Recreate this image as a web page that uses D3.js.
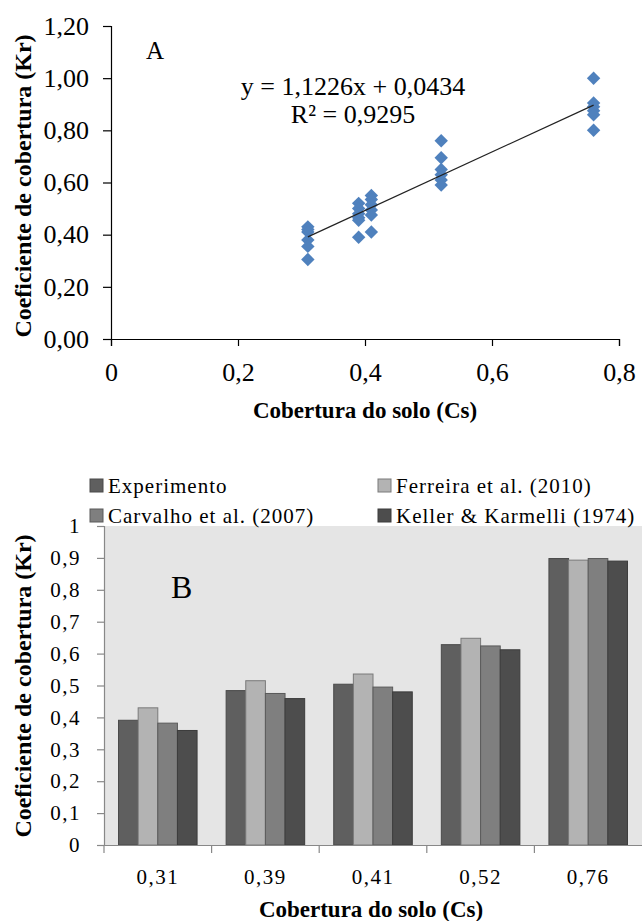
<!DOCTYPE html>
<html>
<head>
<meta charset="utf-8">
<script src="https://cdn.jsdelivr.net/npm/d3@7"></script>
<style>
  body { margin: 0; background: #fff; }
  svg { display: block; }
  text { font-family: "Liberation Serif", "Times New Roman", serif; fill: #000; }
</style>
</head>
<body>
<script>
// --- chart A: scatter ---
var coverX = [0.31, 0.31, 0.31, 0.31, 0.31, 0.31,
              0.39, 0.39, 0.39, 0.39, 0.39, 0.39,
              0.41, 0.41, 0.41, 0.41, 0.41, 0.41,
              0.52, 0.52, 0.52, 0.52, 0.52, 0.52,
              0.76, 0.76, 0.76, 0.76, 0.76, 0.76];
var krY    = [0.43, 0.42, 0.41, 0.38, 0.355, 0.305,
              0.52, 0.50, 0.48, 0.465, 0.455, 0.39,
              0.55, 0.535, 0.515, 0.495, 0.475, 0.41,
              0.76, 0.695, 0.65, 0.63, 0.61, 0.59,
              1.00, 0.905, 0.89, 0.875, 0.86, 0.80];
var slope = 1.1226, intercept = 0.0434;
var scatterXTicks = [0, 0.2, 0.4, 0.6, 0.8];
var scatterYTicks = [0, 0.2, 0.4, 0.6, 0.8, 1.0, 1.2];

// --- chart B: grouped bars ---
var categories = ["0,31", "0,39", "0,41", "0,52", "0,76"];
var seriesNames = ["Experimento", "Ferreira et al. (2010)", "Carvalho et al. (2007)", "Keller & Karmelli (1974)"];
var experimento = [0.391, 0.484, 0.504, 0.628, 0.898];
var ferreira    = [0.430, 0.515, 0.536, 0.648, 0.893];
var carvalho    = [0.382, 0.475, 0.495, 0.624, 0.898];
var keller      = [0.359, 0.459, 0.480, 0.612, 0.890];
var barYTicks = [0, 0.1, 0.2, 0.3, 0.4, 0.5, 0.6, 0.7, 0.8, 0.9, 1];

var comma = function(f) { return function(d) { return d3.format(f)(d).replace(".", ","); }; };

var svg = d3.select("body").append("svg")
    .attr("width", 642)
    .attr("height", 921);

// ===== A =====
var xA = d3.scaleLinear().domain([0, 0.8]).range([111, 619]);
var yA = d3.scaleLinear().domain([0, 1.2]).range([339, 26]);

var axA_x = svg.append("g").attr("transform", "translate(0,339)")
    .call(d3.axisBottom(xA).tickValues(scatterXTicks).tickSize(7).tickPadding(17)
      .tickFormat(function(d) { return d === 0 ? "0" : comma(".1f")(d); }));
var axA_y = svg.append("g").attr("transform", "translate(111,0)")
    .call(d3.axisLeft(yA).tickValues(scatterYTicks).tickSize(8).tickPadding(14).tickFormat(comma(".2f")));
[axA_x, axA_y].forEach(function(g) {
  g.select(".domain").attr("stroke", "#000").attr("stroke-width", 1.2);
  g.selectAll(".tick line").attr("stroke", "#000").attr("stroke-width", 1.2);
  g.selectAll("text").style("font-size", "26px").attr("font-family", null);
});

var pts = coverX.map(function(x, i) { return [x, krY[i]]; });
var diamond = d3.symbol().type(d3.symbolDiamond2).size(115);
svg.append("g").selectAll("path")
  .data(pts)
  .enter()
  .append("path")
  .attr("d", diamond)
  .attr("transform", function(d) { return "translate(" + xA(d[0]) + "," + yA(d[1]) + ")"; })
  .attr("fill", "#4f81bd");

var xMin = d3.min(coverX), xMax = d3.max(coverX);
svg.append("line")
  .attr("x1", xA(xMin)).attr("y1", yA(slope * xMin + intercept))
  .attr("x2", xA(xMax)).attr("y2", yA(slope * xMax + intercept))
  .attr("stroke", "#222").attr("stroke-width", 1.2);

svg.append("text").attr("x", 353).attr("y", 95).attr("text-anchor", "middle")
  .style("font-size", "26px").text("y = 1,1226x + 0,0434");
svg.append("text").attr("x", 353).attr("y", 123).attr("text-anchor", "middle")
  .style("font-size", "26px").text("R² = 0,9295");
svg.append("text").attr("x", 146).attr("y", 59).style("font-size", "25px").text("A");

svg.append("text")
  .attr("transform", "translate(31,186) rotate(-90)")
  .attr("text-anchor", "middle")
  .style("font-size", "24px").style("font-weight", "bold")
  .text("Coeficiente de cobertura (Kr)");
svg.append("text").attr("x", 365).attr("y", 418).attr("text-anchor", "middle")
  .style("font-size", "23px").style("font-weight", "bold")
  .text("Cobertura do solo (Cs)");

// ===== B =====
var series = [experimento, ferreira, carvalho, keller];
var fills = ["#5f5f5f", "#b3b3b3", "#7f7f7f", "#4d4d4d"];
var strokes = ["#4a4a4a", "#7a7a7a", "#5a5a5a", "#3c3c3c"];

var x0 = d3.scaleBand().domain(categories).range([104, 642]).paddingInner(0.27).paddingOuter(0.135);
var x1 = d3.scaleBand().domain(d3.range(series.length)).range([0, x0.bandwidth()]);
var yB = d3.scaleLinear().domain([0, 1]).range([845, 526]);

svg.append("rect").attr("x", 104).attr("y", yB(1)).attr("width", 642 - 104).attr("height", yB(0) - yB(1))
  .attr("fill", "#e5e5e5");

var groups = svg.append("g").selectAll("g")
  .data(categories)
  .enter()
  .append("g")
  .attr("transform", function(d) { return "translate(" + x0(d) + ",0)"; });
groups.selectAll("rect")
  .data(function(d, i) { return series.map(function(s, k) { return { k: k, v: s[i] }; }); })
  .enter()
  .append("rect")
  .attr("x", function(d) { return x1(d.k); })
  .attr("y", function(d) { return yB(d.v); })
  .attr("width", x1.bandwidth())
  .attr("height", function(d) { return yB(0) - yB(d.v); })
  .attr("fill", function(d) { return fills[d.k]; })
  .attr("stroke", function(d) { return strokes[d.k]; })
  .attr("stroke-width", 1);

var axB_y = svg.append("g").attr("transform", "translate(104,0)")
  .call(d3.axisLeft(yB).tickValues(barYTicks).tickSize(7).tickPadding(16)
    .tickFormat(function(d) { return d === 0 || d === 1 ? String(d) : comma(".1f")(d); }));
var axB_x = svg.append("g").attr("transform", "translate(0,845)")
  .call(d3.axisBottom(x0).tickSize(0).tickPadding(24));
axB_x.selectAll(".tick line").remove();
[axB_x, axB_y].forEach(function(g) {
  g.select(".domain").attr("stroke", "#888").attr("stroke-width", 1.2);
  g.selectAll(".tick line").attr("stroke", "#888").attr("stroke-width", 1.2);
  g.selectAll("text").style("font-size", "21px").style("letter-spacing", "1.5px").attr("font-family", null);
});
// category boundary ticks
var gapHalf = (x0.step() - x0.bandwidth()) / 2;
svg.append("g").selectAll("line")
  .data(categories)
  .enter()
  .append("line")
  .attr("x1", function(d) { return x0(d) - gapHalf; })
  .attr("x2", function(d) { return x0(d) - gapHalf; })
  .attr("y1", 845).attr("y2", 853)
  .attr("stroke", "#888").attr("stroke-width", 1.2);

// legend
var legendPos = [[90, 493], [378, 493], [90, 523], [378, 523]];
var leg = svg.append("g").selectAll("g")
  .data(seriesNames)
  .enter()
  .append("g")
  .attr("transform", function(d, i) { return "translate(" + legendPos[i][0] + "," + legendPos[i][1] + ")"; });
leg.append("rect").attr("x", 0).attr("y", -14).attr("width", 13).attr("height", 13)
  .attr("fill", function(d, i) { return fills[i]; })
  .attr("stroke", function(d, i) { return strokes[i]; });
leg.append("text").attr("x", 18).attr("y", 0)
  .style("font-size", "21px").style("letter-spacing", "1px")
  .text(function(d) { return d; });

svg.append("text").attr("x", 171).attr("y", 598).style("font-size", "32px").text("B");

svg.append("text")
  .attr("transform", "translate(31,686) rotate(-90)")
  .attr("text-anchor", "middle")
  .style("font-size", "24px").style("font-weight", "bold")
  .text("Coeficiente de cobertura (Kr)");
svg.append("text").attr("x", 371).attr("y", 917).attr("text-anchor", "middle")
  .style("font-size", "23px").style("font-weight", "bold")
  .text("Cobertura do solo (Cs)");
</script>
</body>
</html>
